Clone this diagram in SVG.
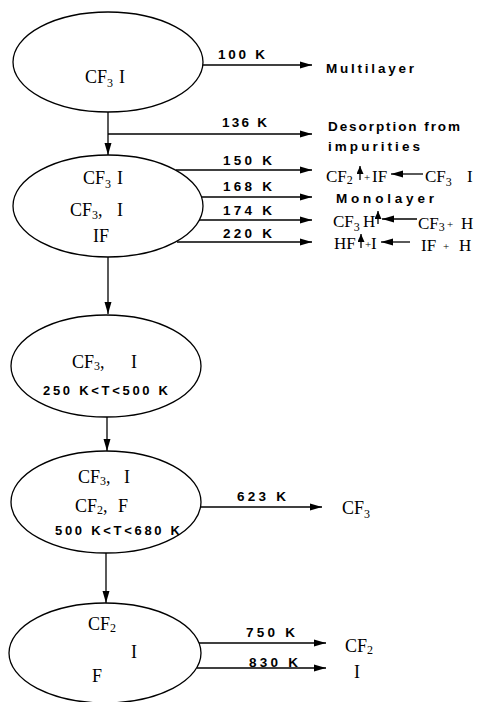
<svg xmlns="http://www.w3.org/2000/svg" width="479" height="702" viewBox="0 0 479 702">
  <style>
    .node { fill: none; stroke: #000; stroke-width: 1.3; }
    .link { fill: none; stroke: #000; stroke-width: 1.3; }
    .chem { font-family: "Liberation Serif", "Times New Roman", serif; font-size: 18px; fill: #000; }
    .rx { font-size: 17px; }
    .sub { font-size: 12px; }
    .lbl { font-family: "Liberation Sans", Arial, sans-serif; font-size: 13.5px; font-weight: bold; fill: #000; }
    .rng { font-family: "Liberation Sans", Arial, sans-serif; font-size: 13px; font-weight: bold; fill: #000; }
    .plus { font-family: "Liberation Serif", serif; font-size: 11px; fill: #000; }
  </style>
  <defs>
    <marker id="head" markerUnits="userSpaceOnUse" markerWidth="12" markerHeight="8" refX="12" refY="4" orient="auto">
      <path d="M0,0.5 L12,4 L0,7.5 z" fill="#000"/>
    </marker>
    <marker id="up" markerUnits="userSpaceOnUse" markerWidth="8" markerHeight="8" refX="8" refY="3.5" orient="auto">
      <path d="M0,0 L8,3.5 L0,7 z" fill="#000"/>
    </marker>
  </defs>

  <!-- connectors -->
  <g id="connectors">
    <line class="link" x1="203" y1="65" x2="312" y2="65" marker-end="url(#head)"/>
    <line class="link" x1="108" y1="112" x2="108" y2="155" marker-end="url(#head)"/>
    <line class="link" x1="108" y1="134" x2="312" y2="134" marker-end="url(#head)"/>
    <line class="link" x1="176" y1="170" x2="312" y2="170" marker-end="url(#head)"/>
    <line class="link" x1="202" y1="197" x2="312" y2="197" marker-end="url(#head)"/>
    <line class="link" x1="199" y1="220" x2="312" y2="220" marker-end="url(#head)"/>
    <line class="link" x1="177" y1="242" x2="312" y2="242" marker-end="url(#head)"/>
    <line class="link" x1="108" y1="257" x2="108" y2="314" marker-end="url(#head)"/>
    <line class="link" x1="107" y1="417" x2="107" y2="451" marker-end="url(#head)"/>
    <line class="link" x1="201" y1="507" x2="322" y2="507" marker-end="url(#head)"/>
    <line class="link" x1="106" y1="553" x2="106" y2="603" marker-end="url(#head)"/>
    <line class="link" x1="199" y1="643" x2="326" y2="643" marker-end="url(#head)"/>
    <line class="link" x1="197" y1="668" x2="326" y2="668" marker-end="url(#head)"/>

    <!-- temperature labels -->
    <text class="lbl" x="218" y="59" textLength="47" lengthAdjust="spacing">100 K</text>
    <text class="lbl" x="222" y="127" textLength="45" lengthAdjust="spacing">136 K</text>
    <text class="lbl" x="223" y="165" textLength="49" lengthAdjust="spacing">150 K</text>
    <text class="lbl" x="223" y="191" textLength="49" lengthAdjust="spacing">168 K</text>
    <text class="lbl" x="223" y="215" textLength="49" lengthAdjust="spacing">174 K</text>
    <text class="lbl" x="223" y="238" textLength="49" lengthAdjust="spacing">220 K</text>
    <text class="lbl" x="237" y="501" textLength="49" lengthAdjust="spacing">623 K</text>
    <text class="lbl" x="246" y="637" textLength="49" lengthAdjust="spacing">750 K</text>
    <text class="lbl" x="249" y="667" textLength="49" lengthAdjust="spacing">830 K</text>
  </g>

  <!-- products -->
  <g id="multilayer">
    <text class="lbl" x="326" y="73" textLength="88" lengthAdjust="spacing">Multilayer</text>
  </g>
  <g id="impurities">
    <text class="lbl" x="328" y="131" textLength="132" lengthAdjust="spacing">Desorption from</text>
    <text class="lbl" x="328" y="151" textLength="92" lengthAdjust="spacing">impurities</text>
  </g>
  <g id="cf2-if">
    <text class="chem rx" x="326" y="182">CF<tspan class="sub" dy="2">2</tspan></text>
    <line class="link" x1="360" y1="180" x2="360" y2="166" marker-end="url(#up)"/>
    <text class="plus" x="364" y="181">+</text>
    <text class="chem rx" x="372" y="182">IF</text>
    <line class="link" x1="423" y1="174" x2="391" y2="174" marker-end="url(#head)"/>
    <text class="chem rx" x="425" y="182">CF<tspan class="sub" dy="4">3</tspan></text>
    <text class="chem rx" x="467" y="182">I</text>
  </g>
  <g id="monolayer">
    <text class="lbl" x="336" y="203" textLength="98" lengthAdjust="spacing">Monolayer</text>
  </g>
  <g id="cf3h">
    <text class="chem rx" x="333" y="227">CF<tspan class="sub" dy="4">3</tspan></text>
    <text class="chem rx" x="363" y="227">H</text>
    <line class="link" x1="378" y1="224" x2="378" y2="211" marker-end="url(#up)"/>
    <line class="link" x1="417" y1="219" x2="382" y2="219" marker-end="url(#head)"/>
    <text class="chem rx" x="418" y="229">CF<tspan class="sub" dy="2">3</tspan></text>
    <text class="plus" x="447" y="228">+</text>
    <text class="chem rx" x="461" y="229">H</text>
  </g>
  <g id="hf-i">
    <text class="chem rx" x="334" y="249">HF</text>
    <line class="link" x1="361" y1="248" x2="361" y2="234" marker-end="url(#up)"/>
    <text class="plus" x="365" y="248">+</text>
    <text class="chem rx" x="371" y="249">I</text>
    <line class="link" x1="410" y1="242" x2="381" y2="242" marker-end="url(#head)"/>
    <text class="chem rx" x="421" y="251">IF</text>
    <text class="plus" x="443" y="250">+</text>
    <text class="chem rx" x="459" y="251">H</text>
  </g>
  <g id="cf3-out">
    <text class="chem" x="342" y="514">CF<tspan class="sub" dy="4">3</tspan></text>
  </g>
  <g id="cf2-out">
    <text class="chem" x="345" y="652">CF<tspan class="sub" dy="2">2</tspan></text>
  </g>
  <g id="i-out">
    <text class="chem" x="354" y="678">I</text>
  </g>

  <!-- surface states -->
  <g id="state-100k">
    <ellipse class="node" cx="108" cy="62" rx="95" ry="50"/>
    <text class="chem" x="85" y="83">CF<tspan class="sub" dy="4">3</tspan><tspan x="119" dy="-4">I</tspan></text>
  </g>
  <g id="state-150k">
    <ellipse class="node" cx="108" cy="206" rx="95" ry="51"/>
    <text class="chem" x="83" y="184">CF<tspan class="sub" dy="4">3</tspan><tspan x="117" dy="-4">I</tspan></text>
    <text class="chem" x="70" y="216">CF<tspan class="sub" dy="3">3</tspan><tspan dy="-3">,</tspan><tspan x="117">I</tspan></text>
    <text class="chem" x="93" y="242">IF</text>
  </g>
  <g id="state-250k">
    <ellipse class="node" cx="106" cy="366" rx="95" ry="51"/>
    <text class="chem" x="72" y="368">CF<tspan class="sub" dy="2">3</tspan><tspan dy="-2">,</tspan><tspan x="131">I</tspan></text>
    <text class="rng" x="43" y="395" textLength="125" lengthAdjust="spacing">250 K&lt;T&lt;500 K</text>
  </g>
  <g id="state-500k">
    <ellipse class="node" cx="106" cy="502" rx="95" ry="51"/>
    <text class="chem" x="78" y="483">CF<tspan class="sub" dy="2">3</tspan><tspan dy="-2">,</tspan><tspan x="124">I</tspan></text>
    <text class="chem" x="75" y="512">CF<tspan class="sub" dy="2">2</tspan><tspan dy="-2">,</tspan><tspan x="118">F</tspan></text>
    <text class="rng" x="55" y="535" textLength="125" lengthAdjust="spacing">500 K&lt;T&lt;680 K</text>
  </g>
  <g id="state-750k">
    <ellipse class="node" cx="105" cy="653" rx="96" ry="50"/>
    <text class="chem" x="88" y="630">CF<tspan class="sub" dy="2">2</tspan></text>
    <text class="chem" x="131" y="658">I</text>
    <text class="chem" x="92" y="682">F</text>
  </g>
</svg>
